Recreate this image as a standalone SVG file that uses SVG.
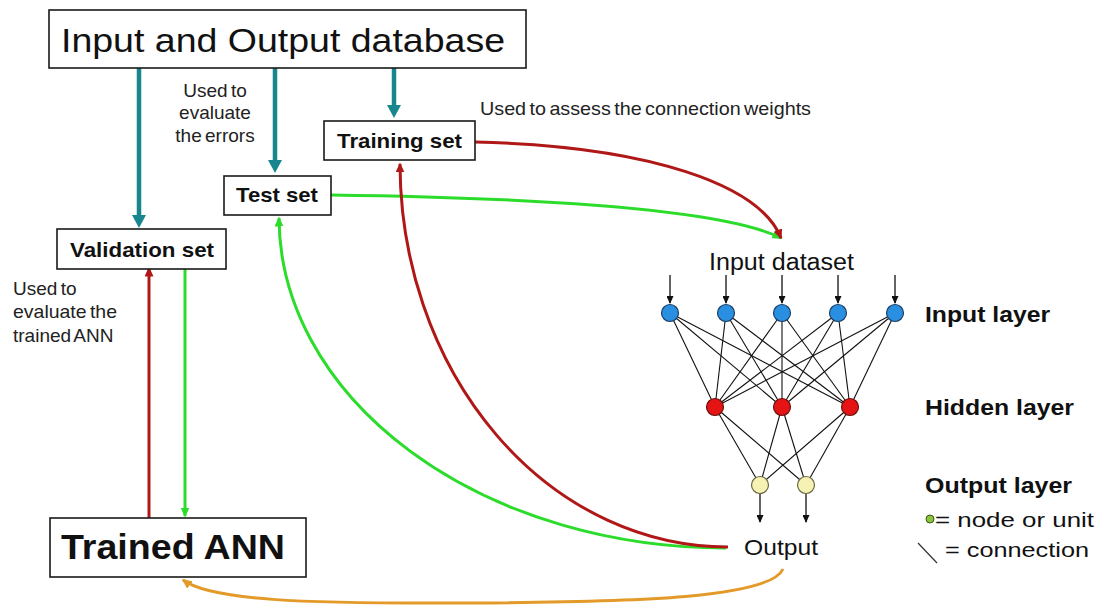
<svg xmlns="http://www.w3.org/2000/svg" width="1102" height="607" viewBox="0 0 1102 607">
  <style>
    text { font-family: "Liberation Sans", Arial, sans-serif; fill: #111; }
    .box { fill: #fff; stroke: #1a1a1a; stroke-width: 1.6; }
    .lbl { font-weight: bold; }
    .note { font-size: 19px; fill: #222; word-spacing: -2px; }
    .teal { stroke: #17878d; stroke-width: 4.5; fill: none; }
    .red { stroke: #b01818; stroke-width: 3; fill: none; }
    .green { stroke: #2bdc2b; stroke-width: 3; fill: none; }
    .orange { stroke: #e39a28; stroke-width: 3; fill: none; }
    .wire { stroke: #111; stroke-width: 1.1; }
    .feed { stroke: #111; stroke-width: 1.3; fill: none; }
    .inN { fill: #2a8fe0; stroke: #1d3f66; stroke-width: 1.2; }
    .hidN { fill: #e51414; stroke: #6a1010; stroke-width: 1.2; }
    .outN { fill: #f6f2b4; stroke: #6b6840; stroke-width: 1.2; }
  </style>
  <defs>
    <marker id="ahTeal" markerUnits="userSpaceOnUse" viewBox="0 0 13 14" markerWidth="13" markerHeight="14" refX="2" refY="7" orient="auto">
      <path d="M0,0 L13,7 L0,14 z" fill="#17878d"/>
    </marker>
    <marker id="ahRed" markerUnits="userSpaceOnUse" viewBox="0 0 10 9" markerWidth="10" markerHeight="9" refX="8.5" refY="4.5" orient="auto">
      <path d="M0,0 L10,4.5 L0,9 z" fill="#b01818"/>
    </marker>
    <marker id="ahGreen" markerUnits="userSpaceOnUse" viewBox="0 0 10 9" markerWidth="10" markerHeight="9" refX="8.5" refY="4.5" orient="auto">
      <path d="M0,0 L10,4.5 L0,9 z" fill="#2bdc2b"/>
    </marker>
    <marker id="ahOrange" markerUnits="userSpaceOnUse" viewBox="0 0 10 9" markerWidth="10" markerHeight="9" refX="8.5" refY="4.5" orient="auto">
      <path d="M0,0 L10,4.5 L0,9 z" fill="#e39a28"/>
    </marker>
    <marker id="ahBlack" markerUnits="userSpaceOnUse" viewBox="0 0 8 7" markerWidth="8" markerHeight="7" refX="7" refY="3.5" orient="auto">
      <path d="M0,0 L8,3.5 L0,7 z" fill="#111"/>
    </marker>
  </defs>

  <rect width="1102" height="607" fill="#fff"/>

  <!-- connectors -->
  <g id="connectors">
    <!-- database split into the three sets -->
    <line class="teal" x1="139" y1="68" x2="139" y2="217" marker-end="url(#ahTeal)"/>
    <line class="teal" x1="275" y1="68" x2="275" y2="162" marker-end="url(#ahTeal)"/>
    <line class="teal" x1="394" y1="68" x2="394" y2="107" marker-end="url(#ahTeal)"/>

    <!-- validation loop -->
    <line class="red" x1="149" y1="518" x2="149" y2="268" marker-end="url(#ahRed)"/>
    <line class="green" x1="185" y1="269" x2="185" y2="516" marker-end="url(#ahGreen)"/>

    <!-- sets feeding the input dataset -->
    <path class="green" d="M331,195 C550,198 725,210 781,238" marker-end="url(#ahGreen)"/>
    <path class="red" d="M475,142 C650,146 760,185 781,238" marker-end="url(#ahRed)"/>

    <!-- output returned to the sets -->
    <path class="green" d="M726,548 A447,331 0 0 1 279,218" marker-end="url(#ahGreen)"/>
    <path class="red" d="M728,547 A328,384 0 0 1 400,164" marker-end="url(#ahRed)"/>

    <!-- output to trained ANN -->
    <path class="orange" d="M783,569 C770,598 640,602 470,603 C300,604 210,600 183,580" marker-end="url(#ahOrange)"/>
  </g>

  <!-- boxes -->
  <g id="database">
    <rect class="box" x="49" y="10" width="477" height="58"/>
    <text x="61" y="52" font-size="34" textLength="444" lengthAdjust="spacingAndGlyphs">Input and Output database</text>
  </g>
  <g id="training-set">
    <rect class="box" x="324" y="121" width="151" height="39"/>
    <text class="lbl" x="337" y="148" font-size="21" textLength="125" lengthAdjust="spacingAndGlyphs">Training set</text>
  </g>
  <g id="test-set">
    <rect class="box" x="224" y="176" width="107" height="39"/>
    <text class="lbl" x="236" y="202" font-size="21" textLength="82" lengthAdjust="spacingAndGlyphs">Test set</text>
  </g>
  <g id="validation-set">
    <rect class="box" x="57" y="229" width="169" height="40"/>
    <text class="lbl" x="70" y="257" font-size="21" textLength="144" lengthAdjust="spacingAndGlyphs">Validation set</text>
  </g>
  <g id="trained-ann">
    <rect class="box" x="50" y="518" width="256" height="59"/>
    <text class="lbl" x="61" y="559" font-size="35" textLength="224" lengthAdjust="spacingAndGlyphs">Trained ANN</text>
  </g>

  <!-- notes -->
  <g id="notes">
    <text class="note" x="215" y="97" text-anchor="middle">Used to</text>
    <text class="note" x="215" y="119" text-anchor="middle">evaluate</text>
    <text class="note" x="215" y="142" text-anchor="middle">the errors</text>
    <text class="note" x="480" y="115" textLength="331" lengthAdjust="spacingAndGlyphs">Used to assess the connection weights</text>
    <text class="note" x="13" y="295">Used to</text>
    <text class="note" x="13" y="318" textLength="104" lengthAdjust="spacingAndGlyphs">evaluate the</text>
    <text class="note" x="13" y="342">trained ANN</text>
  </g>

  <!-- neural network -->
  <g id="network">
    <text x="709" y="270" font-size="23" textLength="145" lengthAdjust="spacingAndGlyphs">Input dataset</text>
    <g id="input-feeds">
      <line class="feed" x1="670" y1="275" x2="670" y2="303" marker-end="url(#ahBlack)"/>
      <line class="feed" x1="726" y1="275" x2="726" y2="303" marker-end="url(#ahBlack)"/>
      <line class="feed" x1="782" y1="275" x2="782" y2="303" marker-end="url(#ahBlack)"/>
      <line class="feed" x1="838" y1="275" x2="838" y2="303" marker-end="url(#ahBlack)"/>
      <line class="feed" x1="895" y1="275" x2="895" y2="303" marker-end="url(#ahBlack)"/>
    </g>
    <g id="weights">
      <line class="wire" x1="670" y1="313" x2="715" y2="407"/>
      <line class="wire" x1="670" y1="313" x2="782" y2="407"/>
      <line class="wire" x1="670" y1="313" x2="850" y2="407"/>
      <line class="wire" x1="726" y1="313" x2="715" y2="407"/>
      <line class="wire" x1="726" y1="313" x2="782" y2="407"/>
      <line class="wire" x1="726" y1="313" x2="850" y2="407"/>
      <line class="wire" x1="782" y1="313" x2="715" y2="407"/>
      <line class="wire" x1="782" y1="313" x2="782" y2="407"/>
      <line class="wire" x1="782" y1="313" x2="850" y2="407"/>
      <line class="wire" x1="838" y1="313" x2="715" y2="407"/>
      <line class="wire" x1="838" y1="313" x2="782" y2="407"/>
      <line class="wire" x1="838" y1="313" x2="850" y2="407"/>
      <line class="wire" x1="895" y1="313" x2="715" y2="407"/>
      <line class="wire" x1="895" y1="313" x2="782" y2="407"/>
      <line class="wire" x1="895" y1="313" x2="850" y2="407"/>
      <line class="wire" x1="715" y1="407" x2="760" y2="485"/>
      <line class="wire" x1="715" y1="407" x2="806" y2="485"/>
      <line class="wire" x1="782" y1="407" x2="760" y2="485"/>
      <line class="wire" x1="782" y1="407" x2="806" y2="485"/>
      <line class="wire" x1="850" y1="407" x2="760" y2="485"/>
      <line class="wire" x1="850" y1="407" x2="806" y2="485"/>
    </g>
    <g id="input-layer-nodes">
      <circle class="inN" cx="670" cy="313" r="8.5"/>
      <circle class="inN" cx="726" cy="313" r="8.5"/>
      <circle class="inN" cx="782" cy="313" r="8.5"/>
      <circle class="inN" cx="838" cy="313" r="8.5"/>
      <circle class="inN" cx="895" cy="313" r="8.5"/>
    </g>
    <g id="hidden-layer-nodes">
      <circle class="hidN" cx="715" cy="407" r="8.5"/>
      <circle class="hidN" cx="782" cy="407" r="8.5"/>
      <circle class="hidN" cx="850" cy="407" r="8.5"/>
    </g>
    <g id="output-layer-nodes">
      <circle class="outN" cx="760" cy="485" r="8.5"/>
      <circle class="outN" cx="806" cy="485" r="8.5"/>
    </g>
    <g id="output-feeds">
      <line class="feed" x1="760" y1="494" x2="760" y2="522" marker-end="url(#ahBlack)"/>
      <line class="feed" x1="806" y1="494" x2="806" y2="522" marker-end="url(#ahBlack)"/>
    </g>
    <text x="744" y="555" font-size="22" textLength="74" lengthAdjust="spacingAndGlyphs">Output</text>
  </g>

  <!-- layer labels and legend -->
  <g id="legend">
    <text class="lbl" x="925" y="322" font-size="22" textLength="125" lengthAdjust="spacingAndGlyphs">Input layer</text>
    <text class="lbl" x="925" y="415" font-size="22" textLength="149" lengthAdjust="spacingAndGlyphs">Hidden layer</text>
    <text class="lbl" x="925" y="493" font-size="22" textLength="147" lengthAdjust="spacingAndGlyphs">Output layer</text>
    <circle cx="930" cy="519" r="4" fill="#8cc63f" stroke="#3a5a1a" stroke-width="1"/>
    <text x="935" y="527" font-size="21" textLength="159" lengthAdjust="spacingAndGlyphs">= node or unit</text>
    <line x1="918" y1="543" x2="937" y2="563" stroke="#333" stroke-width="1.2"/>
    <text x="945" y="557" font-size="21" textLength="144" lengthAdjust="spacingAndGlyphs">= connection</text>
  </g>
</svg>
